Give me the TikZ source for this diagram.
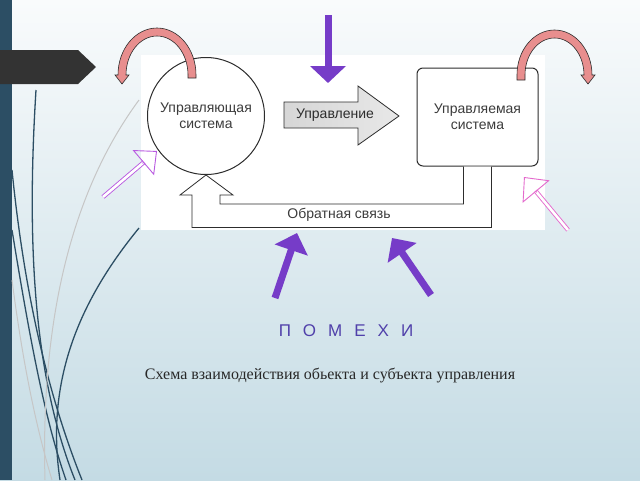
\documentclass[tikz,border=0pt]{standalone}
\usepackage{fontspec}
\setmainfont{Liberation Serif}
\newfontfamily\diagfont{Liberation Sans}
\usetikzlibrary{arrows.meta,calc}

\definecolor{bgtop}{RGB}{249,251,252}
\definecolor{bgbottom}{RGB}{196,219,228}
\definecolor{stripeblue}{RGB}{44,78,100}
\definecolor{tabgray}{RGB}{51,51,51}
\definecolor{darkline}{RGB}{45,45,45}
\definecolor{diagtext}{RGB}{60,60,60}
\definecolor{pinkfill}{RGB}{232,142,142}
\definecolor{noisepurple}{RGB}{118,60,200}
\definecolor{lilac}{RGB}{185,90,225}
\definecolor{rosy}{RGB}{228,105,205}
\definecolor{pomcolor}{RGB}{80,64,170}
\definecolor{captext}{RGB}{40,40,40}

\tikzset{
  sysbox/.style={draw=darkline, line width=1pt, fill=white, align=center,
    text=diagtext, font=\diagfont\fontsize{14}{16}\selectfont},
  lbl/.style={text=diagtext, font=\diagfont\fontsize{14}{16}\selectfont},
  pinkarc/.style={fill=pinkfill, draw=darkline, line width=0.6pt},
  noise/.style={draw=noisepurple, line width=7pt,
    -{Triangle[width=34pt,length=18pt]}},
  hollow/.style={double=white, double distance=2.6pt, line width=0.9pt},
  deco/.style={stripeblue, line width=1.3pt},
  decolight/.style={gray!45, line width=1pt},
}

\begin{document}
\begin{tikzpicture}[x=1pt, y=-1pt]
    \useasboundingbox (0,0) rectangle (640,480);
    % фон слайда
    \shade[top color=bgtop, bottom color=bgbottom] (0,0) rectangle (640,480);
    \fill[stripeblue] (0,0) rectangle (12,480);

    % декоративные линии слева
    \draw[deco] (36,90) .. controls (26,250) and (35,380) .. (75,480);
    \draw[deco] (12,170) .. controls (25,300) and (50,400) .. (82,480);
    \draw[deco] (12,230) .. controls (30,340) and (45,420) .. (66,480);
    \draw[deco] (139,228) .. controls (80,300) and (45,380) .. (60,480);
    \draw[decolight] (139,100) .. controls (80,180) and (40,300) .. (45,480);
    \draw[decolight] (12,280) .. controls (25,380) and (40,440) .. (52,480);

    % белая подложка схемы
    \fill[white] (141,55) rectangle (545,230);
    \fill[tabgray] (0,50) -- (78,50) -- (96,67) -- (78,84) -- (0,84) -- cycle;

    % системы
    \node[sysbox, circle, minimum size=117pt, inner sep=0pt]
        (ctrl) at (206,116) {Управляющая\\система};
    \node[sysbox, rounded corners=6pt, minimum width=121pt, minimum height=98pt]
        (obj) at (477.5,117) {Управляемая\\система};

    % стрелка управления
    \draw[darkline, line width=0.8pt, left color=gray!32, right color=gray!18]
        (284,102) -- (358,102) -- (358,86) -- (399,116)
        -- (358,145) -- (358,128) -- (284,128) -- cycle;
    \node[lbl, text=darkline] (upr) at (335,115) {Управление};

    % обратная связь
    \draw[darkline, line width=0.8pt, fill=white]
        ($(obj.south)+(14,0)$) -- ++(0,61) -| ($(ctrl.south)+(-14,20)$)
        -- ++(-12,0) -- (ctrl.south) -- ++(27,20) -- ++(-13,0)
        -- ++(0,9) -| ($(obj.south)+(-14,0)$);
    \node[lbl] (fb) at (339,215) {Обратная связь};

    % розовые дуги
    \filldraw[pinkarc] (196,78) -- (196,75)
        arc[start angle=0, end angle=-180, x radius=39, y radius=47]
        -- (115,75) -- (122,84) -- (129,75) -- (126,75)
        arc[start angle=-180, end angle=0, x radius=31, y radius=39]
        -- (188,78) -- cycle;
    \filldraw[pinkarc] (517,80) -- (517,75)
        arc[start angle=-180, end angle=0, x radius=37.5, y radius=45]
        -- (595,75) -- (588,84) -- (581,75) -- (584,75)
        arc[start angle=0, end angle=-180, x radius=29.5, y radius=37]
        -- (525,80) -- cycle;

    % помехи
    \coordinate (n0s) at (328,15);
    \coordinate (n0e) at (328,83);
    \coordinate (n1s) at (275,298);
    \coordinate (n1e) at (297,233);
    \coordinate (n2s) at (431,295);
    \coordinate (n2e) at (392,238);
    \draw[noise, -{Triangle[width=35pt,length=17pt]}] (n0s) -- (n0e);
    \draw[noise] (n1s) -- (n1e);
    \draw[noise] (n2s) -- (n2e);

    % полые стрелки
    \coordinate (h1s) at (103,197);
    \coordinate (h1e) at (157,151);
    \draw[hollow, draw=lilac] (h1s) -- ($(h1e)!17pt!(h1s)$);
    \draw[lilac, line width=0.9pt, -{Triangle[open, width=33pt, length=18pt]}]
        ($(h1e)!19pt!(h1s)$) -- (h1e);
    \coordinate (h2s) at (568,230);
    \coordinate (h2e) at (524,177);
    \draw[hollow, draw=rosy] (h2s) -- ($(h2e)!18pt!(h2s)$);
    \draw[rosy, line width=0.9pt, -{Triangle[open, width=35pt, length=19pt]}]
        ($(h2e)!20pt!(h2s)$) -- (h2e);

    \node[text=pomcolor, font={\diagfont\fontsize{17}{20}\selectfont\spaceskip=12pt}]
        (pom) at (346,331) {П О М Е Х И};
    \node[text=captext, font=\fontsize{16}{19}\selectfont]
        (cap) at (330,375) {Схема взаимодействия обьекта и субъекта управления};
\end{tikzpicture}
\end{document}
